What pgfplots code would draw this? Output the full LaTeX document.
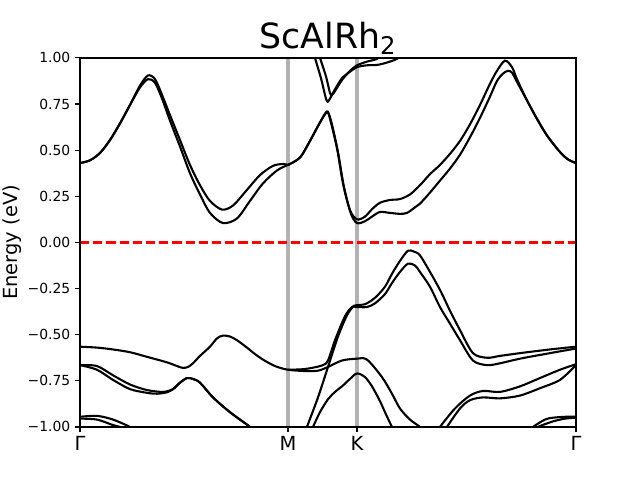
\documentclass[border=0pt]{standalone}
\usepackage{fontspec}
\setmainfont{DejaVu Sans}
\usepackage{pgfplots}
\pgfplotsset{compat=1.18}
\definecolor{vl}{RGB}{178,178,178}
\begin{document}
\begin{tikzpicture}
\begin{axis}[
  scale only axis, width=357.1pt, height=265.7pt,
  at={(0,0)}, anchor=south west,
  xmin=0, xmax=496, ymin=-1, ymax=1,
  xtick={0,208,277,496}, xticklabels={Γ,M,K,Γ},
  ytick={-1,-0.75,-0.5,-0.25,0,0.25,0.5,0.75,1},
  yticklabels={−1.00,−0.75,−0.50,−0.25,0.00,0.25,0.50,0.75,1.00},
  xtick pos=bottom, ytick pos=left,
  tick align=outside, major tick length=3.5pt,
  tick style={black, line width=0.8pt},
  axis line style={line width=1.8pt},
  axis on top,
  xticklabel style={font=\fontsize{14}{16}\selectfont},
  yticklabel style={font=\fontsize{10}{12}\selectfont},
  ylabel={Energy (eV)},
  ylabel style={font=\fontsize{14}{16}\selectfont, at={(axis description cs:0,0.5)}, anchor=center, yshift=49pt},
  title={ScAlRh\textsubscript{2}},
  title style={font=\fontsize{25}{29}\selectfont, at={(axis description cs:0.5,1)}, anchor=base, yshift=1pt},
  band/.style={black, line width=1.5pt, smooth, no marks},
]
% high-symmetry lines
\addplot[vl, line width=3pt, no marks] coordinates {(208,-1) (208,1)};
\addplot[vl, line width=3pt, no marks] coordinates {(277,-1) (277,1)};
% Fermi level
\addplot[red, line width=1.8pt, dash pattern=on 6.6pt off 2.9pt, no marks] coordinates {(0,0) (496,0)};
% conduction bands Gamma-M
\addplot[band] coordinates {(0,0.43) (10,0.445) (20,0.485) (30,0.555) (40,0.645) (50,0.745) (60,0.85) (68,0.905) (75,0.885) (82,0.80) (90,0.69) (100,0.555) (110,0.42) (120,0.31) (130,0.225) (142,0.178) (153,0.20) (167,0.285) (180,0.365) (193,0.415) (203,0.425) (208,0.42)};
\addplot[band] coordinates {(0,0.43) (10,0.445) (20,0.485) (30,0.555) (40,0.645) (50,0.745) (60,0.84) (68,0.885) (75,0.865) (82,0.78) (90,0.66) (100,0.52) (110,0.375) (120,0.26) (130,0.16) (143,0.105) (157,0.13) (170,0.225) (183,0.32) (197,0.39) (208,0.42)};
% conduction M-K-Gamma
\addplot[band] coordinates {(208,0.42) (220,0.46) (230,0.55) (240,0.65) (247,0.71) (250,0.67) (257,0.51) (263,0.32) (270,0.175) (277,0.125) (285,0.14) (292,0.18) (300,0.215) (310,0.23) (320,0.235) (330,0.26) (340,0.31) (350,0.37) (360,0.42) (370,0.48) (380,0.55) (390,0.64) (400,0.745) (410,0.86) (417,0.93) (425,0.985) (432,0.95) (437,0.885) (447,0.77) (457,0.67) (467,0.58) (480,0.49) (488,0.45) (496,0.43)};
\addplot[band] coordinates {(208,0.42) (220,0.46) (230,0.55) (240,0.65) (247,0.705) (251,0.66) (258,0.49) (264,0.30) (271,0.155) (277,0.105) (285,0.115) (292,0.14) (300,0.165) (310,0.16) (320,0.155) (327,0.16) (335,0.19) (340,0.21) (350,0.27) (360,0.335) (370,0.40) (380,0.475) (390,0.57) (400,0.675) (410,0.79) (417,0.875) (423,0.915) (428,0.93) (432,0.92) (437,0.87) (447,0.77) (457,0.67) (467,0.58) (480,0.49) (488,0.45) (496,0.43)};
% upper V bands
\addplot[band] coordinates {(233,1.04) (235,1.0) (241,0.89) (245,0.80) (247,0.765) (249,0.77) (255,0.83) (262,0.89) (270,0.925) (277,0.95) (287,0.96) (297,0.962) (307,0.975) (317,0.995) (325,1.03)};
\addplot[band] coordinates {(238,1.04) (240,1.0) (246,0.9) (250,0.81) (252,0.80) (255,0.82) (262,0.88) (270,0.93) (277,0.96) (287,0.98) (297,0.995) (305,1.03)};
% valence Gamma-M (pair at -0.565) and M-K-Gamma continuations
\addplot[band] coordinates {(0,-0.565) (17,-0.57) (33,-0.58) (50,-0.595) (67,-0.62) (87,-0.65) (98,-0.672) (103,-0.68) (108,-0.675) (113,-0.655) (120,-0.615) (130,-0.565) (137,-0.52) (143,-0.505) (150,-0.51) (157,-0.53) (167,-0.57) (175,-0.605) (183,-0.635) (195,-0.67) (208,-0.69) (225,-0.697) (238,-0.695) (248,-0.675) (262,-0.64) (277,-0.63) (287,-0.635) (302,-0.73) (312,-0.82) (320,-0.90) (330,-0.96) (340,-1.0) (345,-1.03)};
\addplot[band] coordinates {(208,-0.69) (225,-0.686) (242,-0.667) (248,-0.64) (255,-0.53) (265,-0.40) (272,-0.35) (277,-0.34) (285,-0.335) (295,-0.30) (305,-0.24) (312,-0.17) (320,-0.10) (328,-0.045) (334,-0.05) (340,-0.07) (350,-0.16) (360,-0.257) (370,-0.37) (380,-0.475) (393,-0.60) (407,-0.625) (420,-0.615) (440,-0.60) (470,-0.58) (496,-0.565)};
% steep band from below to K
\addplot[band] coordinates {(225,-1.04) (227,-1.0) (238,-0.84) (248,-0.675) (258,-0.51) (267,-0.395) (273,-0.35) (277,-0.35) (287,-0.35) (295,-0.33) (305,-0.28) (312,-0.22) (320,-0.16) (328,-0.115) (335,-0.125) (340,-0.16) (350,-0.24) (360,-0.35) (370,-0.44) (380,-0.53) (393,-0.64) (407,-0.665) (420,-0.655) (440,-0.63) (470,-0.60) (496,-0.575)};
% band with K at -0.71
\addplot[band] coordinates {(231,-1.03) (233,-1.0) (240,-0.92) (248,-0.85) (255,-0.81) (262,-0.78) (270,-0.74) (277,-0.71) (285,-0.73) (292,-0.78) (300,-0.86) (305,-0.92) (312,-1.0) (316,-1.04)};
% lens pair from Gamma at -0.665
\addplot[band] coordinates {(0,-0.665) (17,-0.67) (33,-0.72) (50,-0.77) (67,-0.80) (83,-0.81) (93,-0.795) (100,-0.76) (107,-0.735) (113,-0.74) (120,-0.76) (133,-0.84) (150,-0.92) (170,-1.0) (175,-1.03)};
\addplot[band] coordinates {(0,-0.665) (17,-0.69) (33,-0.745) (50,-0.795) (67,-0.815) (77,-0.82) (87,-0.812) (93,-0.795) (100,-0.76) (107,-0.735) (113,-0.74) (120,-0.76) (133,-0.84) (150,-0.92) (170,-1.0) (175,-1.03)};
% bottom pairs near Gamma
\addplot[band] coordinates {(0,-0.945) (17,-0.94) (33,-0.96) (50,-1.0) (55,-1.02)};
\addplot[band] coordinates {(0,-0.955) (17,-0.96) (33,-0.99) (40,-1.0) (45,-1.02)};
\addplot[band] coordinates {(450,-1.02) (453,-1.0) (465,-0.96) (473,-0.95) (485,-0.945) (496,-0.945)};
\addplot[band] coordinates {(455,-1.02) (458,-1.0) (473,-0.97) (485,-0.955) (496,-0.95)};
% rising pair K-Gamma
\addplot[band] coordinates {(357,-1.03) (360,-1.0) (375,-0.90) (390,-0.83) (403,-0.805) (420,-0.81) (440,-0.78) (460,-0.735) (480,-0.69) (496,-0.66)};
\addplot[band] coordinates {(364,-1.03) (367,-1.0) (380,-0.90) (390,-0.855) (403,-0.84) (420,-0.845) (440,-0.83) (460,-0.79) (480,-0.745) (496,-0.665)};
\end{axis}
\pgfresetboundingbox
\path (-57.6pt,-38.2pt) rectangle (403.2pt,307.4pt);
\end{tikzpicture}
\end{document}
